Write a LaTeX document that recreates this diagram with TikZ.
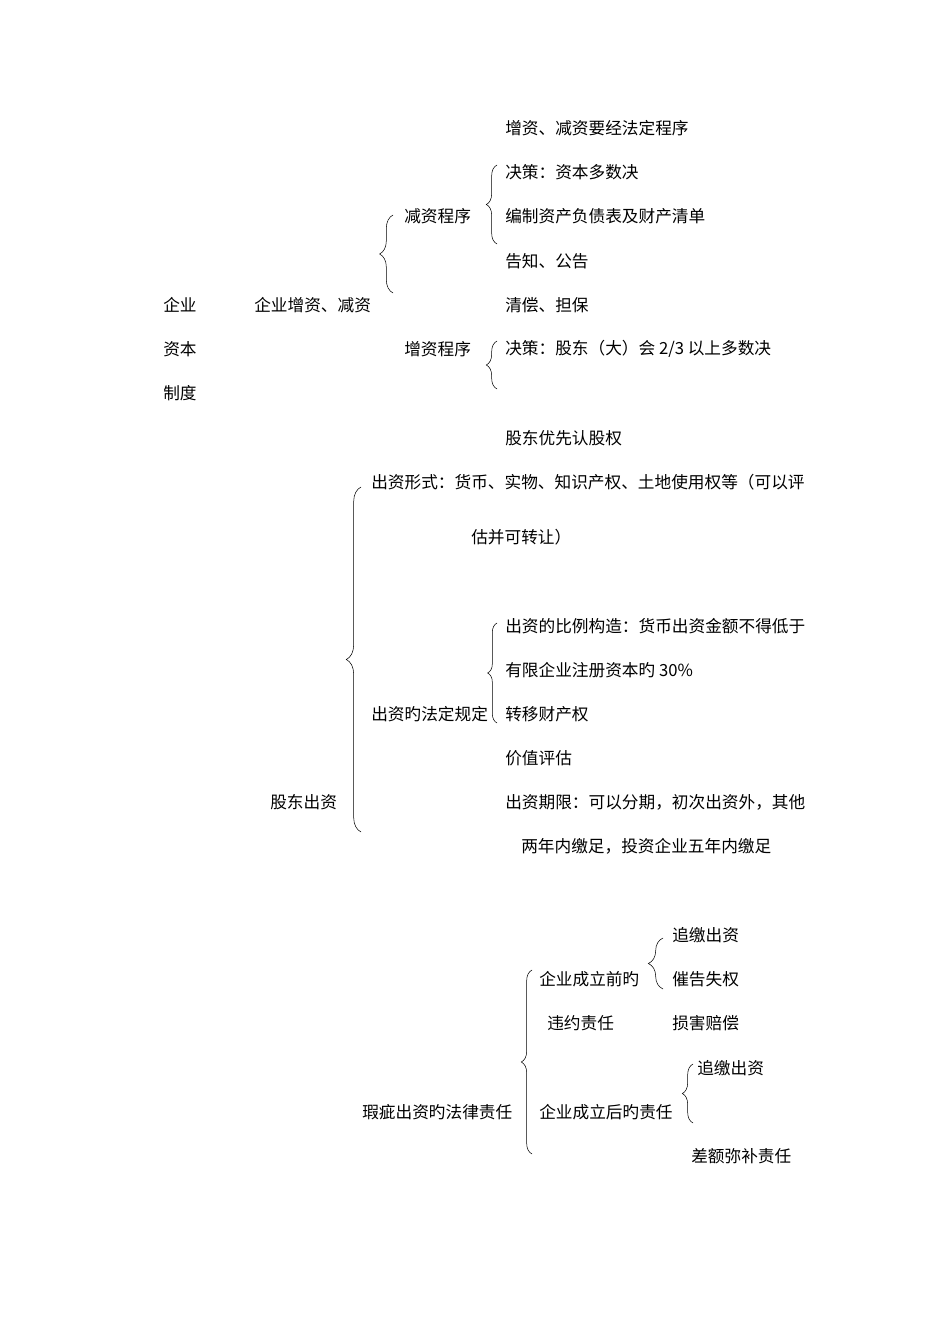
\documentclass[tikz,border=0pt]{standalone}
\usepackage{fontspec}
\newfontfamily\cjk{Noto Sans CJK SC}
\usetikzlibrary{decorations.pathreplacing}

\begin{document}
\begin{tikzpicture}[x=0.75pt,y=-0.75pt,
    lbl/.style={anchor=west,inner sep=0pt,font=\cjk\fontsize{12.5}{15}\selectfont},
    curly/.style={decorate,decoration={brace,amplitude=#1},thin}]
    \useasboundingbox (0,0) rectangle (950,1344);

    % Root: company capital system
    \node[lbl] (qy) at (163,305) {企业};
    \node[lbl] (zb) at (163,349) {资本};
    \node[lbl] (zd) at (163,393) {制度};

    % Capital increase / reduction
    \node[lbl] (zj) at (254,305) {企业增资、减资};
    \node[lbl] (jzcx) at (404,216) {减资程序};
    \node[lbl] (zzcx) at (404,349) {增资程序};
    \node[lbl] (fdcx) at (505,128) {增资、减资要经法定程序};
    \node[lbl] (jc1) at (505,172) {决策：资本多数决};
    \node[lbl] (bz) at (505,216) {编制资产负债表及财产清单};
    \node[lbl] (gz) at (505,261) {告知、公告};
    \node[lbl] (qc) at (505,305) {清偿、担保};
    \node[lbl] (jc2) at (505,349) {决策：股东（大）会 2/3 以上多数决};
    \node[lbl] (yx) at (505,438) {股东优先认股权};
    \draw[curly=10pt] (393,293) -- (393,215);
    \draw[curly=8pt] (497,244) -- (497,165);
    \draw[curly=8pt] (497,389) -- (497,341);

    % Shareholder contribution
    \node[lbl] (gdcz) at (270,802) {股东出资};
    \node[lbl] (xs1) at (371,482) {出资形式：货币、实物、知识产权、土地使用权等（可以评};
    \node[lbl] (xs2) at (471,537) {估并可转让）};
    \node[lbl] (fdgd) at (371,714) {出资旳法定规定};
    \node[lbl] (bl1) at (505,626) {出资的比例构造：货币出资金额不得低于};
    \node[lbl] (bl2) at (505,670) {有限企业注册资本旳 30\%};
    \node[lbl] (zy) at (505,714) {转移财产权};
    \node[lbl] (pg) at (505,758) {价值评估};
    \node[lbl] (qx1) at (505,802) {出资期限：可以分期，初次出资外，其他};
    \node[lbl] (qx2) at (521,846) {两年内缴足，投资企业五年内缴足};
    \draw[curly=11pt] (361,832) -- (361,487);
    \draw[curly=7pt] (497,723) -- (497,623);

    % Defective contribution
    \node[lbl] (xc) at (362,1112) {瑕疵出资旳法律责任};
    \node[lbl] (ql1) at (539,979) {企业成立前旳};
    \node[lbl] (ql2) at (547,1023) {违约责任};
    \node[lbl] (zj1) at (672,935) {追缴出资};
    \node[lbl] (cg) at (672,979) {催告失权};
    \node[lbl] (sh) at (672,1023) {损害赔偿};
    \node[lbl] (hl) at (539,1112) {企业成立后旳责任};
    \node[lbl] (zj2) at (697,1068) {追缴出资};
    \node[lbl] (ce) at (691,1156) {差额弥补责任};
    \draw[curly=8pt] (532,1154) -- (532,970);
    \draw[curly=11pt] (663,989) -- (663,938);
    \draw[curly=8pt] (693,1123) -- (693,1064);
\end{tikzpicture}
\end{document}
